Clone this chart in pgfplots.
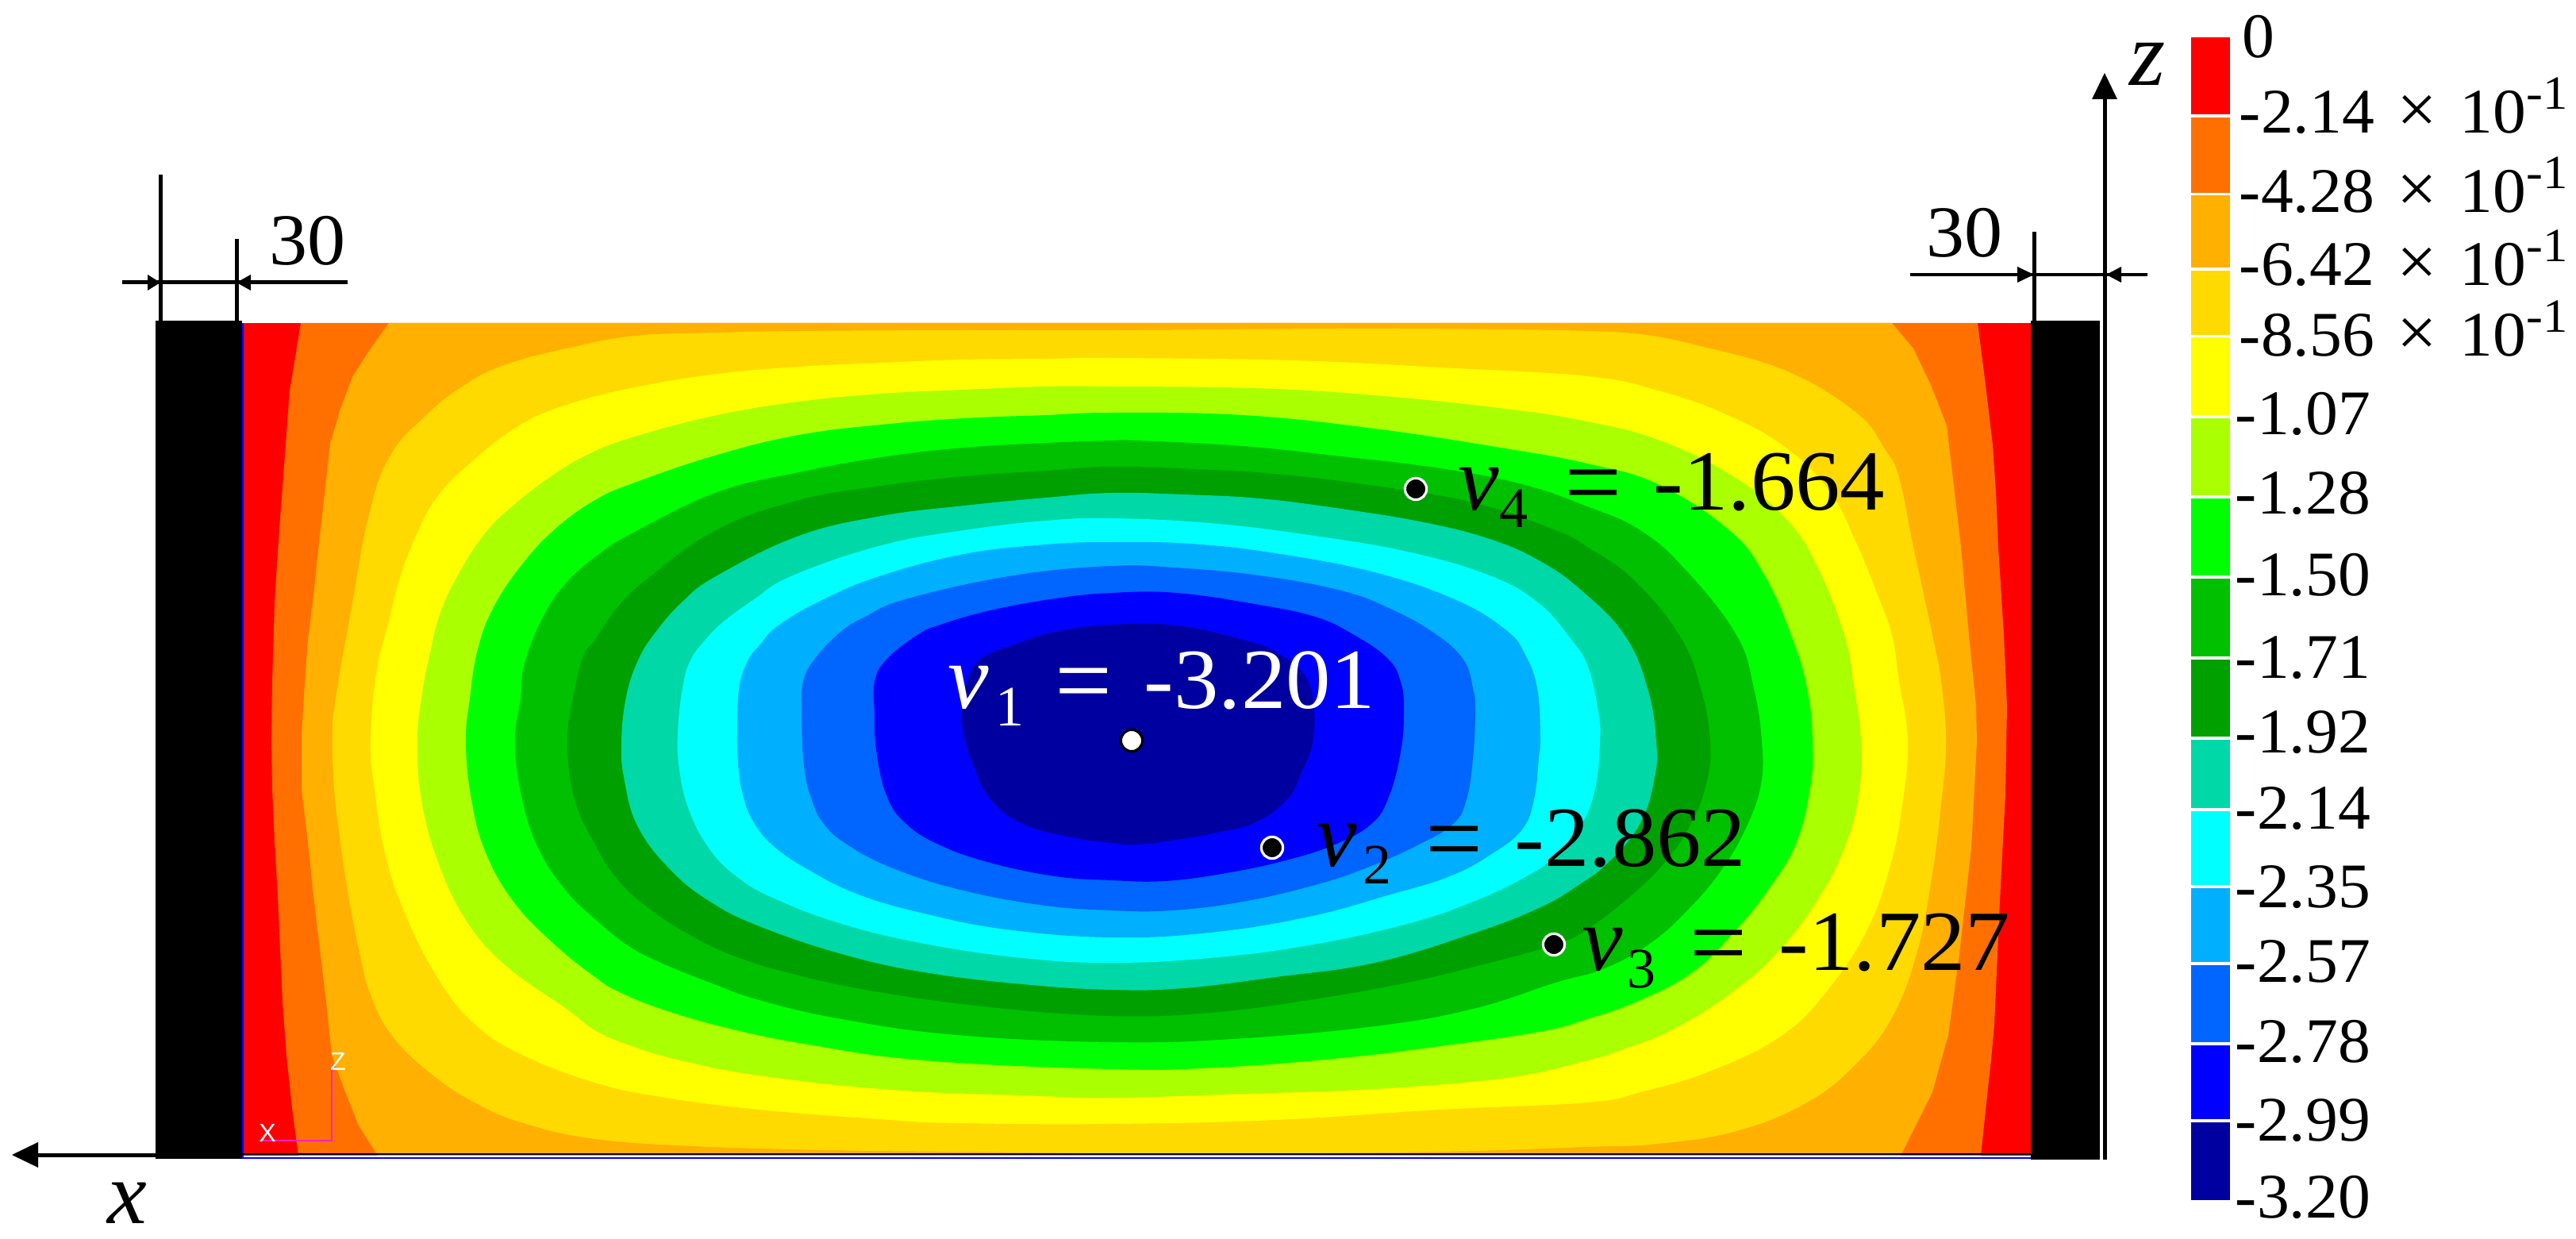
\documentclass[border=0pt]{standalone}
\usepackage{pgfplots}
\pgfplotsset{compat=1.18}
\usepackage{fontspec}
\setmainfont{Liberation Serif}
\setsansfont{Liberation Sans}
\newfontfamily\widea[FakeStretch=1.02]{Liberation Serif}
\newfontfamily\wideb[FakeStretch=1.045]{Liberation Serif}
\definecolor{c1}{HTML}{FF0000}
\definecolor{c2}{HTML}{FF7000}
\definecolor{c3}{HTML}{FFB000}
\definecolor{c4}{HTML}{FFDA00}
\definecolor{c5}{HTML}{FFFF00}
\definecolor{c6}{HTML}{AAFF00}
\definecolor{c7}{HTML}{00FF00}
\definecolor{c8}{HTML}{00C000}
\definecolor{c9}{HTML}{00A000}
\definecolor{c10}{HTML}{00D8A8}
\definecolor{c11}{HTML}{00FFFF}
\definecolor{c12}{HTML}{00B0FF}
\definecolor{c13}{HTML}{0066FF}
\definecolor{c14}{HTML}{0000FF}
\definecolor{c15}{HTML}{0000A0}
\definecolor{triad}{HTML}{FF20C0}
% filled band: sharp outline / smooth closed outline
\newcommand\band[2]{\addplot[fill=#1,draw=none] coordinates {#2} --cycle;}
\newcommand\sband[2]{\addplot[fill=#1,draw=none,smooth cycle,tension=0.7] coordinates {#2};}
\newcommand\cbar[3]{\addplot[fill=#1,draw=none] coordinates {(2761,#2)(2810,#2)(2810,#3)(2761,#3)} --cycle;}
\newcommand\lin[2]{\addplot[black,line width=#1] coordinates {#2};}
\newcommand\tri[1]{\addplot[fill=black,draw=none] coordinates {#1} --cycle;}
\newcommand\tl[3]{\node[anchor=base west,inner sep=0pt] at (axis cs:#1,#2) {\widea\fontsize{20}{24}\selectfont #3};}
\newcommand\tlx[1]{\node[anchor=base west,inner sep=0pt] at (axis cs:3020,#1) {\widea\fontsize{22}{24}\selectfont ×};
  \node[anchor=base west,inner sep=0pt] at (axis cs:3099,#1) {\wideb\fontsize{20}{24}\selectfont 10\raisebox{7.7pt}{\fontsize{15}{16}\selectfont -1}};}
% v label: x, baseline, colour, index, value, offsets for index, equals, value
\newcommand\vlab[8]{%
  \node[anchor=base west,inner sep=0pt,text=#3] at (axis cs:#1,#2) {\fontsize{29}{32}\selectfont\itshape v};
  \node[anchor=base west,inner sep=0pt,text=#3] at (axis cs:#6,#2+22) {\fontsize{18}{20}\selectfont #4};
  \node[anchor=base west,inner sep=0pt,text=#3] at (axis cs:#7-4,#2+8) {\fontsize{32}{34}\selectfont =};
  \node[anchor=base west,inner sep=0pt,text=#3] at (axis cs:#8,#2) {\wideb\fontsize{27}{30}\selectfont #5};}
\begin{document}
\begin{tikzpicture}
\begin{axis}[scale only axis,width=811.5pt,height=390.25pt,xmin=0,xmax=3246,ymin=0,ymax=1561,y dir=reverse,hide axis,clip=false]
\addplot[draw=none] coordinates {(0,0)(3246,1561)};
% field
\band{c1}{(305,407)(2559,407)(2559,1456)(305,1456)}
\band{c2}{(379,407)(372,450)(365,492)(360,560)(355,626)(350,695)(346,760)(343,860)(342,930)(343,994)(346,1060)(350,1128)(356,1262)(361,1330)(368,1396)(376,1456)(2496,1456)(2504,1380)(2509,1335)(2513,1291)(2520,1135)(2527,1001)(2529,889)(2525,800)(2518,689)(2515,620)(2511,561)(2502,485)(2492,407)}
\band{c3}{(490,407)(467,439)(444,475)(429,515)(416,559)(411,604)(406,649)(401,693)(395,751)(388,805)(384,860)(380,927)(380,994)(388,1061)(395,1128)(403,1195)(411,1262)(418,1329)(434,1373)(452,1418)(476,1456)(2395,1456)(2435,1376)(2455,1304)(2469,1202)(2484,1068)(2491,934)(2490,889)(2481,800)(2471,689)(2462,612)(2453,536)(2433,485)(2411,439)(2384,407)}
\sband{c4}{(1400,416)(1215,416)(1007,417)(904,419)(800,423)(714,439)(638,459)(587,484)(536,524)(490,577)(464,653)(444,760)(423,880)(419,927)(421,994)(429,1061)(439,1128)(452,1195)(467,1253)(495,1306)(546,1355)(602,1391)(663,1416)(750,1435)(874,1444)(1040,1449)(1206,1451)(1400,1453)(1607,1453)(1815,1451)(2000,1445)(2089,1441)(2188,1425)(2277,1389)(2339,1340)(2384,1282)(2415,1202)(2433,1113)(2446,1014)(2452,934)(2446,858)(2435,800)(2411,689)(2393,602)(2375,566)(2339,520)(2250,467)(2134,434)(2067,421)(2000,417)(1897,415)(1690,414)}
\sband{c5}{(1400,451)(1318,452)(1215,453)(1111,457)(1007,462)(904,471)(800,488)(714,510)(653,537)(592,584)(551,626)(526,671)(505,725)(490,783)(474,850)(467,936)(472,994)(485,1074)(510,1150)(551,1231)(597,1289)(658,1329)(750,1364)(833,1382)(957,1398)(1123,1411)(1206,1415)(1400,1416)(1607,1411)(1815,1398)(2000,1389)(2067,1376)(2156,1349)(2246,1304)(2304,1246)(2353,1171)(2382,1090)(2397,1014)(2404,934)(2393,858)(2384,800)(2366,750)(2339,684)(2304,617)(2246,561)(2170,520)(2089,492)(2000,474)(1815,463)(1628,454)}
\sband{c6}{(1400,487)(1318,487)(1215,491)(1111,496)(1007,506)(904,523)(800,550)(740,573)(689,604)(643,640)(612,671)(582,716)(556,769)(541,827)(531,880)(526,936)(531,1007)(551,1083)(587,1159)(638,1217)(714,1271)(750,1298)(791,1316)(854,1335)(957,1355)(1123,1373)(1289,1380)(1400,1383)(1566,1378)(1732,1372)(1898,1358)(2000,1336)(2045,1322)(2112,1295)(2188,1246)(2246,1193)(2295,1126)(2326,1063)(2342,1001)(2345,934)(2335,858)(2324,800)(2290,714)(2250,653)(2179,597)(2089,554)(2000,531)(1897,515)(1732,498)(1578,489)}
\sband{c7}{(1400,520)(1318,523)(1215,527)(1111,535)(1007,548)(904,573)(800,608)(750,630)(699,667)(658,711)(622,765)(602,818)(592,880)(587,936)(594,1007)(612,1074)(648,1137)(699,1190)(750,1231)(779,1249)(833,1271)(916,1295)(1019,1316)(1165,1336)(1400,1347)(1533,1345)(1690,1333)(1815,1318)(1939,1300)(2000,1284)(2067,1260)(2134,1224)(2188,1171)(2228,1121)(2263,1063)(2281,992)(2284,934)(2277,867)(2257,800)(2223,724)(2179,668)(2089,610)(2000,584)(1897,565)(1732,540)(1566,523)}
\sband{c8}{(1400,555)(1318,558)(1215,564)(1111,576)(1007,595)(904,620)(800,670)(755,698)(714,734)(684,778)(661,836)(656,880)(649,936)(658,1007)(679,1070)(714,1123)(750,1158)(791,1191)(833,1213)(895,1238)(957,1260)(1061,1284)(1206,1304)(1400,1313)(1553,1309)(1732,1293)(1856,1271)(1960,1238)(2022,1220)(2080,1188)(2129,1144)(2170,1095)(2201,1041)(2219,988)(2220,934)(2210,867)(2188,800)(2125,719)(2067,668)(2000,638)(1918,610)(1815,590)(1690,575)(1566,562)(1433,555)}
\sband{c9}{(1400,588)(1318,593)(1215,600)(1111,612)(1007,630)(904,667)(821,725)(779,764)(750,806)(735,827)(722,880)(715,936)(724,1007)(750,1064)(775,1104)(812,1140)(866,1176)(924,1204)(999,1227)(1102,1249)(1248,1269)(1400,1280)(1524,1276)(1649,1260)(1773,1238)(1877,1213)(1960,1190)(2000,1171)(2058,1126)(2098,1086)(2129,1041)(2150,988)(2155,934)(2143,867)(2116,800)(2058,730)(2000,689)(1960,668)(1856,633)(1732,612)(1607,597)(1504,591)}
\sband{c10}{(1400,621)(1318,627)(1215,637)(1111,650)(1007,675)(904,725)(860,758)(825,798)(804,832)(789,878)(783,936)(787,984)(804,1042)(845,1096)(895,1136)(957,1167)(1061,1202)(1165,1225)(1289,1240)(1400,1247)(1491,1245)(1607,1231)(1732,1213)(1856,1176)(1939,1144)(1989,1115)(2027,1086)(2067,1037)(2085,979)(2087,934)(2076,867)(2047,800)(1993,744)(1939,706)(1877,679)(1794,658)(1690,641)(1587,628)(1491,623)}
\sband{c11}{(1400,653)(1318,656)(1215,668)(1111,687)(999,725)(949,756)(912,783)(889,806)(870,832)(860,867)(854,924)(856,969)(868,1020)(895,1071)(932,1107)(978,1133)(1061,1164)(1165,1189)(1289,1207)(1400,1213)(1524,1207)(1649,1191)(1773,1164)(1856,1136)(1918,1107)(1956,1082)(1989,1045)(2009,998)(2016,936)(2014,897)(2001,840)(1980,806)(1939,760)(1877,725)(1773,695)(1649,674)(1524,659)}
\sband{c12}{(1400,683)(1318,686)(1215,698)(1111,725)(1040,754)(982,787)(957,813)(943,831)(932,863)(929,909)(930,962)(937,1005)(951,1038)(976,1067)(1019,1096)(1082,1127)(1165,1151)(1268,1171)(1400,1181)(1524,1175)(1649,1155)(1752,1127)(1827,1104)(1881,1075)(1918,1045)(1933,1007)(1939,955)(1941,928)(1937,867)(1922,825)(1898,794)(1835,756)(1732,721)(1607,697)(1500,685)}
\sband{c13}{(1400,713)(1277,725)(1144,754)(1090,777)(1057,798)(1026,831)(1012,859)(1010,900)(1013,965)(1022,1005)(1038,1038)(1069,1065)(1123,1093)(1206,1120)(1310,1140)(1400,1147)(1477,1147)(1566,1136)(1657,1115)(1723,1093)(1786,1065)(1831,1038)(1848,1007)(1856,955)(1859,897)(1856,867)(1844,831)(1808,798)(1752,767)(1690,744)(1587,725)(1479,715)}
\sband{c14}{(1400,747)(1330,754)(1248,769)(1185,787)(1156,800)(1117,831)(1102,859)(1102,900)(1104,944)(1117,1002)(1142,1038)(1185,1065)(1248,1087)(1330,1104)(1400,1109)(1468,1110)(1545,1100)(1620,1084)(1682,1064)(1728,1038)(1750,1004)(1765,947)(1769,897)(1765,859)(1748,829)(1703,798)(1657,777)(1587,762)(1483,747)}
\sband{c15}{(1400,787)(1330,796)(1281,811)(1235,831)(1218,862)(1212,900)(1216,933)(1227,965)(1248,1007)(1289,1038)(1351,1055)(1400,1062)(1433,1064)(1483,1058)(1533,1049)(1582,1036)(1622,1007)(1640,973)(1653,940)(1656,897)(1645,852)(1607,821)(1566,806)(1483,788)}
% supports and edges
\band{black}{(196,404)(305,404)(305,1460)(196,1460)}
\band{black}{(2559,404)(2646,404)(2646,1461)(2559,1461)}
\addplot[blue,line width=0.6pt] coordinates {(306,407)(306,1459)(2559,1459)};
\addplot[black,line width=0.7pt] coordinates {(305,1454)(2559,1454)};
% local triad
\addplot[triad,line width=0.4pt] coordinates {(329,1437)(418,1437)(418,1347)};
\node[text=white,inner sep=0pt] at (axis cs:337,1427) {\sffamily\fontsize{8}{9}\selectfont X};
\node[text=white,inner sep=0pt] at (axis cs:426,1337) {\sffamily\fontsize{8}{9}\selectfont Z};
% dimensions
\lin{1.25pt}{(202.5,220)(202.5,404)}
\lin{1.25pt}{(298.5,301)(298.5,404)}
\lin{1.25pt}{(154,356)(438,356)}
\tri{(202,356)(186,346)(186,366)}
\tri{(298,356)(316,346)(316,366)}
\node[anchor=base west,inner sep=0pt] at (axis cs:339,334) {\wideb\fontsize{23}{26}\selectfont 30};
\lin{1.25pt}{(2563,292)(2563,404)}
\lin{1pt}{(2407,346)(2706,346)}
\tri{(2563,346)(2542,336)(2542,356)}
\tri{(2654,346)(2673,336)(2673,356)}
\node[anchor=base west,inner sep=0pt] at (axis cs:2427,324) {\wideb\fontsize{23}{26}\selectfont 30};
% global axes
\lin{1.25pt}{(2652,1461)(2652,120)}
\tri{(2652,92)(2636,125)(2668,125)}
\lin{1.25pt}{(196,1455)(45,1455)}
\tri{(15,1455)(48,1439)(48,1471)}
\node[anchor=base west,inner sep=0pt] at (axis cs:2683,108) {\fontsize{29}{32}\selectfont\itshape z};
\node[anchor=base west,inner sep=0pt] at (axis cs:135,1541) {\fontsize{28}{30}\selectfont\itshape x};
% probes
\addplot[only marks,mark=*,mark size=3.4pt,mark options={fill=white,draw=black,line width=0.8pt}] coordinates {(1426,933)};
\addplot[only marks,mark=*,mark size=3.4pt,mark options={fill=black,draw=white,line width=0.8pt}] coordinates {(1784,616)(1603,1068)(1958,1190)};
\vlab{1194}{892}{white}{1}{-3.201}{1254}{1333}{1441}
\vlab{1837}{643}{black}{4}{-1.664}{1889}{1975}{2083}
\vlab{1658}{1091}{black}{2}{-2.862}{1717}{1800}{1908}
\vlab{1993}{1222}{black}{3}{-1.727}{2050}{2133}{2241}
% colour bar
\cbar{c1}{47}{144}
\cbar{c2}{148}{243}
\cbar{c3}{246}{337}
\cbar{c4}{341}{422}
\cbar{c5}{425}{523}
\cbar{c6}{527}{624}
\cbar{c7}{628}{725}
\cbar{c8}{729}{827}
\cbar{c9}{831}{928}
\cbar{c10}{932}{1018}
\cbar{c11}{1022}{1115}
\cbar{c12}{1119}{1212}
\cbar{c13}{1216}{1313}
\cbar{c14}{1317}{1410}
\cbar{c15}{1414}{1512}
\tl{2825}{73}{0}
\tl{2821}{168}{-2.14}\tlx{168}
\tl{2821}{268}{-4.28}\tlx{268}
\tl{2821}{360}{-6.42}\tlx{360}
\tl{2821}{449}{-8.56}\tlx{449}
\tl{2816}{548}{-1.07}
\tl{2816}{648}{-1.28}
\tl{2816}{750}{-1.50}
\tl{2816}{854}{-1.71}
\tl{2816}{948}{-1.92}
\tl{2816}{1044}{-2.14}
\tl{2816}{1143}{-2.35}
\tl{2816}{1237}{-2.57}
\tl{2816}{1338}{-2.78}
\tl{2816}{1437}{-2.99}
\tl{2816}{1534}{-3.20}
\end{axis}
\end{tikzpicture}
\end{document}
